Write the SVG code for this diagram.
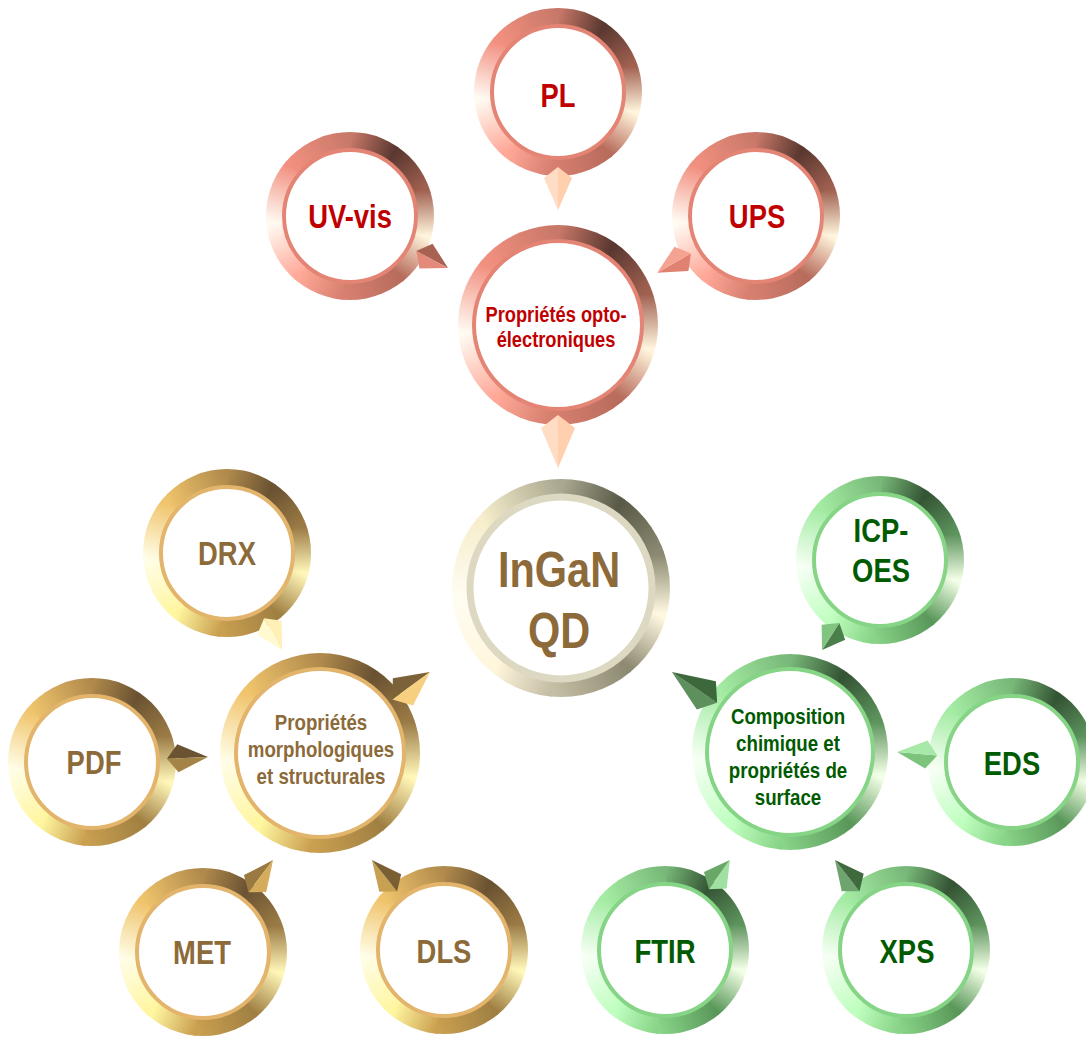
<svg xmlns="http://www.w3.org/2000/svg" width="1086" height="1037" viewBox="0 0 1086 1037">
<style>
.t{font-family:"Liberation Sans",Arial,Helvetica,sans-serif;font-weight:700;text-anchor:middle}
.s{font-size:33px}.m{font-size:21.5px}.xl{font-size:50px}
.tr{fill:#c00000}.tg{fill:#8c6a3a}.tn{fill:#005a00}
.ir{fill:#fff;stroke:#e38474;stroke-width:4}
.ig{fill:#fff;stroke:#e2b46c;stroke-width:4}
.in{fill:#fff;stroke:#86d486;stroke-width:4}
.ix{fill:#fff;stroke:#ddd8c2;stroke-width:7}
</style>
<defs>
<clipPath id="uc"><circle r="1"/></clipPath>
<path id="w0" d="M0 0L0 -1.4L.8229 -1.1326Z"/>
<path id="w1" d="M0 0L.803 -1.1469L1.3237 -.4558Z"/>
<path id="w2" d="M0 0L1.3156 -.4788L1.3458 .3858Z"/>
<path id="w3" d="M0 0L1.3523 .3623L.881 1.0879Z"/>
<path id="w4" d="M0 0L.8999 1.0724L-.1463 1.3923Z"/>
<path id="w5" d="M0 0L-.1221 1.3947L-.9185 1.0566Z"/>
<path id="w6" d="M0 0L-.8999 1.0724L-1.3966 .0977Z"/>
<path id="w7" d="M0 0L-1.3947 .1221L-1.0566 -.9185Z"/>
<path id="w8" d="M0 0L-1.0724 -.8999L.0245 -1.3997Z"/>
<linearGradient id="g0" gradientUnits="userSpaceOnUse" x1="0" y1="-.9" x2=".5162" y2="-.7373"/>
<linearGradient id="g1" gradientUnits="userSpaceOnUse" x1=".5162" y1="-.7373" x2=".8457" y2="-.3078"/>
<linearGradient id="g2" gradientUnits="userSpaceOnUse" x1=".8457" y1="-.3078" x2=".8693" y2=".2329"/>
<linearGradient id="g3" gradientUnits="userSpaceOnUse" x1=".8693" y1=".2329" x2=".5785" y2=".6894"/>
<linearGradient id="g4" gradientUnits="userSpaceOnUse" x1=".5785" y1=".6894" x2="-.0785" y2=".8966"/>
<linearGradient id="g5" gradientUnits="userSpaceOnUse" x1="-.0785" y1=".8966" x2="-.5785" y2=".6894"/>
<linearGradient id="g6" gradientUnits="userSpaceOnUse" x1="-.5785" y1=".6894" x2="-.8966" y2=".0785"/>
<linearGradient id="g7" gradientUnits="userSpaceOnUse" x1="-.8966" y1=".0785" x2="-.6894" y2="-.5785"/>
<linearGradient id="g8" gradientUnits="userSpaceOnUse" x1="-.6894" y1="-.5785" x2="0" y2="-.9"/>
<!-- red -->
<linearGradient id="r0" href="#g0"><stop stop-color="#c87868"/><stop offset="1" stop-color="#5a3830"/></linearGradient>
<linearGradient id="r1" href="#g1"><stop stop-color="#5a3830"/><stop offset="1" stop-color="#a06050"/></linearGradient>
<linearGradient id="r2" href="#g2"><stop stop-color="#a06050"/><stop offset="1" stop-color="#fff4dc"/></linearGradient>
<linearGradient id="r3" href="#g3"><stop stop-color="#fff4dc"/><stop offset="1" stop-color="#b86c5c"/></linearGradient>
<linearGradient id="r4" href="#g4"><stop stop-color="#b86c5c"/><stop offset="1" stop-color="#d88070"/></linearGradient>
<linearGradient id="r5" href="#g5"><stop stop-color="#d88070"/><stop offset="1" stop-color="#ffa898"/></linearGradient>
<linearGradient id="r6" href="#g6"><stop stop-color="#ffa898"/><stop offset="1" stop-color="#fffaf2"/></linearGradient>
<linearGradient id="r7" href="#g7"><stop stop-color="#fffaf2"/><stop offset="1" stop-color="#f29080"/></linearGradient>
<linearGradient id="r8" href="#g8"><stop stop-color="#f29080"/><stop offset="1" stop-color="#c87868"/></linearGradient>
<!-- gold -->
<linearGradient id="o0" href="#g0"><stop stop-color="#b08a4c"/><stop offset="1" stop-color="#6a5232"/></linearGradient>
<linearGradient id="o1" href="#g1"><stop stop-color="#6a5232"/><stop offset="1" stop-color="#9a7a44"/></linearGradient>
<linearGradient id="o2" href="#g2"><stop stop-color="#9a7a44"/><stop offset="1" stop-color="#fff6b8"/></linearGradient>
<linearGradient id="o3" href="#g3"><stop stop-color="#fff6b8"/><stop offset="1" stop-color="#a08042"/></linearGradient>
<linearGradient id="o4" href="#g4"><stop stop-color="#a08042"/><stop offset="1" stop-color="#caa050"/></linearGradient>
<linearGradient id="o5" href="#g5"><stop stop-color="#caa050"/><stop offset="1" stop-color="#fff6a0"/></linearGradient>
<linearGradient id="o6" href="#g6"><stop stop-color="#fff6a0"/><stop offset="1" stop-color="#fffde6"/></linearGradient>
<linearGradient id="o7" href="#g7"><stop stop-color="#fffde6"/><stop offset="1" stop-color="#f0c46c"/></linearGradient>
<linearGradient id="o8" href="#g8"><stop stop-color="#f0c46c"/><stop offset="1" stop-color="#b08a4c"/></linearGradient>
<!-- green -->
<linearGradient id="n0" href="#g0"><stop stop-color="#78b878"/><stop offset="1" stop-color="#345434"/></linearGradient>
<linearGradient id="n1" href="#g1"><stop stop-color="#345434"/><stop offset="1" stop-color="#5c925c"/></linearGradient>
<linearGradient id="n2" href="#g2"><stop stop-color="#5c925c"/><stop offset="1" stop-color="#f2ffe6"/></linearGradient>
<linearGradient id="n3" href="#g3"><stop stop-color="#f2ffe6"/><stop offset="1" stop-color="#5a985a"/></linearGradient>
<linearGradient id="n4" href="#g4"><stop stop-color="#5a985a"/><stop offset="1" stop-color="#88d488"/></linearGradient>
<linearGradient id="n5" href="#g5"><stop stop-color="#88d488"/><stop offset="1" stop-color="#c0ffc0"/></linearGradient>
<linearGradient id="n6" href="#g6"><stop stop-color="#c0ffc0"/><stop offset="1" stop-color="#f6fff4"/></linearGradient>
<linearGradient id="n7" href="#g7"><stop stop-color="#f6fff4"/><stop offset="1" stop-color="#a4eca4"/></linearGradient>
<linearGradient id="n8" href="#g8"><stop stop-color="#a4eca4"/><stop offset="1" stop-color="#78b878"/></linearGradient>
<!-- gray -->
<linearGradient id="x0" href="#g0"><stop stop-color="#aaa890"/><stop offset="1" stop-color="#5a5a48"/></linearGradient>
<linearGradient id="x1" href="#g1"><stop stop-color="#5a5a48"/><stop offset="1" stop-color="#8a8870"/></linearGradient>
<linearGradient id="x2" href="#g2"><stop stop-color="#8a8870"/><stop offset="1" stop-color="#fff8e0"/></linearGradient>
<linearGradient id="x3" href="#g3"><stop stop-color="#fff8e0"/><stop offset="1" stop-color="#8e8a72"/></linearGradient>
<linearGradient id="x4" href="#g4"><stop stop-color="#8e8a72"/><stop offset="1" stop-color="#c4bea4"/></linearGradient>
<linearGradient id="x5" href="#g5"><stop stop-color="#c4bea4"/><stop offset="1" stop-color="#fff6dc"/></linearGradient>
<linearGradient id="x6" href="#g6"><stop stop-color="#fff6dc"/><stop offset="1" stop-color="#fffcf2"/></linearGradient>
<linearGradient id="x7" href="#g7"><stop stop-color="#fffcf2"/><stop offset="1" stop-color="#f6eecc"/></linearGradient>
<linearGradient id="x8" href="#g8"><stop stop-color="#f6eecc"/><stop offset="1" stop-color="#aaa890"/></linearGradient>
<g id="cone-red" clip-path="url(#uc)"><use href="#w0" fill="url(#r0)"/><use href="#w1" fill="url(#r1)"/><use href="#w2" fill="url(#r2)"/><use href="#w3" fill="url(#r3)"/><use href="#w4" fill="url(#r4)"/><use href="#w5" fill="url(#r5)"/><use href="#w6" fill="url(#r6)"/><use href="#w7" fill="url(#r7)"/><use href="#w8" fill="url(#r8)"/></g>
<g id="cone-gold" clip-path="url(#uc)"><use href="#w0" fill="url(#o0)"/><use href="#w1" fill="url(#o1)"/><use href="#w2" fill="url(#o2)"/><use href="#w3" fill="url(#o3)"/><use href="#w4" fill="url(#o4)"/><use href="#w5" fill="url(#o5)"/><use href="#w6" fill="url(#o6)"/><use href="#w7" fill="url(#o7)"/><use href="#w8" fill="url(#o8)"/></g>
<g id="cone-green" clip-path="url(#uc)"><use href="#w0" fill="url(#n0)"/><use href="#w1" fill="url(#n1)"/><use href="#w2" fill="url(#n2)"/><use href="#w3" fill="url(#n3)"/><use href="#w4" fill="url(#n4)"/><use href="#w5" fill="url(#n5)"/><use href="#w6" fill="url(#n6)"/><use href="#w7" fill="url(#n7)"/><use href="#w8" fill="url(#n8)"/></g>
<g id="cone-gray" clip-path="url(#uc)"><use href="#w0" fill="url(#x0)"/><use href="#w1" fill="url(#x1)"/><use href="#w2" fill="url(#x2)"/><use href="#w3" fill="url(#x3)"/><use href="#w4" fill="url(#x4)"/><use href="#w5" fill="url(#x5)"/><use href="#w6" fill="url(#x6)"/><use href="#w7" fill="url(#x7)"/><use href="#w8" fill="url(#x8)"/></g>
</defs>
<rect width="1086" height="1037" fill="#fff"/>

<g id="node-pl"><use href="#cone-red" transform="translate(558 92) scale(84)"/><circle cx="558" cy="92" r="66" class="ir"/><text class="t s tr" transform="translate(558 107) scale(.83 1)">PL</text></g>
<g id="node-uvvis"><use href="#cone-red" transform="translate(350 216) scale(84)"/><circle cx="350" cy="216" r="66" class="ir"/><text class="t s tr" transform="translate(350 228) scale(.83 1)">UV-vis</text></g>
<g id="node-ups"><use href="#cone-red" transform="translate(756 216) scale(84)"/><circle cx="756" cy="216" r="66" class="ir"/><text class="t s tr" transform="translate(757 228) scale(.83 1)">UPS</text></g>
<g id="node-opto"><use href="#cone-red" transform="translate(558 325) scale(100)"/><circle cx="558" cy="325" r="84" class="ir"/><text class="t m tr" transform="translate(556 0) scale(.85 1)"><tspan x="0" y="322">Propriétés opto-</tspan><tspan x="0" y="347">électroniques</tspan></text></g>
<g id="node-ingan"><use href="#cone-gray" transform="translate(561 588) scale(109)"/><circle cx="561" cy="588" r="91" class="ix"/><text class="t xl tg" transform="translate(559 0) scale(.83 1)"><tspan x="0" y="587">InGaN</tspan><tspan x="0" y="648">QD</tspan></text></g>
<g id="node-drx"><use href="#cone-gold" transform="translate(227 553) scale(84)"/><circle cx="227" cy="553" r="66" class="ig"/><text class="t s tg" transform="translate(227 565) scale(.83 1)">DRX</text></g>
<g id="node-pdf"><use href="#cone-gold" transform="translate(92 762) scale(84)"/><circle cx="92" cy="762" r="66" class="ig"/><text class="t s tg" transform="translate(94 774) scale(.83 1)">PDF</text></g>
<g id="node-morph"><use href="#cone-gold" transform="translate(320 753) scale(100)"/><circle cx="320" cy="753" r="84" class="ig"/><text class="t m tg" transform="translate(321 0) scale(.87 1)"><tspan x="0" y="730">Propriétés</tspan><tspan x="0" y="757">morphologiques</tspan><tspan x="0" y="784">et structurales</tspan></text></g>
<g id="node-met"><use href="#cone-gold" transform="translate(203 952) scale(84)"/><circle cx="203" cy="952" r="66" class="ig"/><text class="t s tg" transform="translate(202 964) scale(.83 1)">MET</text></g>
<g id="node-dls"><use href="#cone-gold" transform="translate(444 950) scale(84)"/><circle cx="444" cy="950" r="66" class="ig"/><text class="t s tg" transform="translate(444 963) scale(.83 1)">DLS</text></g>
<g id="node-icp"><use href="#cone-green" transform="translate(880 560) scale(84)"/><circle cx="880" cy="560" r="66" class="in"/><text class="t s tn" transform="translate(881 0) scale(.83 1)"><tspan x="0" y="542">ICP-</tspan><tspan x="0" y="582">OES</tspan></text></g>
<g id="node-comp"><use href="#cone-green" transform="translate(790 752) scale(98)"/><circle cx="790" cy="752" r="83" class="in"/><text class="t m tn" transform="translate(788 0) scale(.87 1)"><tspan x="0" y="724">Composition</tspan><tspan x="0" y="751">chimique et</tspan><tspan x="0" y="778">propriétés de</tspan><tspan x="0" y="805">surface</tspan></text></g>
<g id="node-eds"><use href="#cone-green" transform="translate(1012 762) scale(84)"/><circle cx="1012" cy="762" r="66" class="in"/><text class="t s tn" transform="translate(1012 775) scale(.83 1)">EDS</text></g>
<g id="node-ftir"><use href="#cone-green" transform="translate(665 950) scale(84)"/><circle cx="665" cy="950" r="66" class="in"/><text class="t s tn" transform="translate(665 963) scale(.83 1)">FTIR</text></g>
<g id="node-xps"><use href="#cone-green" transform="translate(906 950) scale(84)"/><circle cx="906" cy="950" r="66" class="in"/><text class="t s tn" transform="translate(907 963) scale(.83 1)">XPS</text></g>

<g id="connectors">
<g transform="translate(558 92) rotate(180)"><polygon points="0,-75 -14,-86 0,-118" fill="#ffcfae"/><polygon points="0,-75 14,-86 0,-118" fill="#ffdcc4"/></g>
<g transform="translate(350 216) rotate(117.9)"><polygon points="0,-75 -14,-86 0,-111" fill="#a86252"/><polygon points="0,-75 14,-86 0,-111" fill="#e48a7a"/></g>
<g transform="translate(756 216) rotate(240.1)"><polygon points="0,-75 -14,-86 0,-114" fill="#e08272"/><polygon points="0,-75 14,-86 0,-114" fill="#f4a292"/></g>
<g transform="translate(558 325) rotate(180)"><polygon points="0,-90 -17,-103 0,-143" fill="#ffcfae"/><polygon points="0,-90 17,-103 0,-143" fill="#ffdcc4"/></g>
<g transform="translate(227 553) rotate(150.4)"><polygon points="0,-75 -14,-86 0,-111.5" fill="#fff0b8"/><polygon points="0,-75 14,-86 0,-111.5" fill="#fffad0"/></g>
<g transform="translate(92 762) rotate(87.5)"><polygon points="0,-75 -14,-86 0,-116" fill="#6a5232"/><polygon points="0,-75 14,-86 0,-116" fill="#a48446"/></g>
<g transform="translate(320 753) rotate(53.6)"><polygon points="0,-90 -17,-103 0,-136.6" fill="#7c6238"/><polygon points="0,-90 17,-103 0,-136.6" fill="#f6d07e"/></g>
<g transform="translate(203 952) rotate(37.3)"><polygon points="0,-75 -14,-86 0,-115.6" fill="#9a7a40"/><polygon points="0,-75 14,-86 0,-115.6" fill="#d4ac5c"/></g>
<g transform="translate(444 950) rotate(321.3)"><polygon points="0,-75 -14,-86 0,-115.3" fill="#c8a052"/><polygon points="0,-75 14,-86 0,-115.3" fill="#7a5e34"/></g>
<g transform="translate(880 560) rotate(212.8)"><polygon points="0,-75 -14,-86 0,-107" fill="#4a7e4a"/><polygon points="0,-75 14,-86 0,-107" fill="#80c480"/></g>
<g transform="translate(790 752) rotate(304.1)"><polygon points="0,-88 -17,-101 0,-142.6" fill="#5e905e"/><polygon points="0,-88 17,-101 0,-142.6" fill="#3c683c"/></g>
<g transform="translate(1012 762) rotate(275)"><polygon points="0,-75 -14,-86 0,-115.4" fill="#7cc47c"/><polygon points="0,-75 14,-86 0,-115.4" fill="#a8e8a8"/></g>
<g transform="translate(665 950) rotate(35.8)"><polygon points="0,-75 -14,-86 0,-111" fill="#6aa86a"/><polygon points="0,-75 14,-86 0,-111" fill="#a0e0a0"/></g>
<g transform="translate(906 950) rotate(321.7)"><polygon points="0,-75 -14,-86 0,-114.6" fill="#6fa46f"/><polygon points="0,-75 14,-86 0,-114.6" fill="#3e6a3e"/></g>
</g>
</svg>
